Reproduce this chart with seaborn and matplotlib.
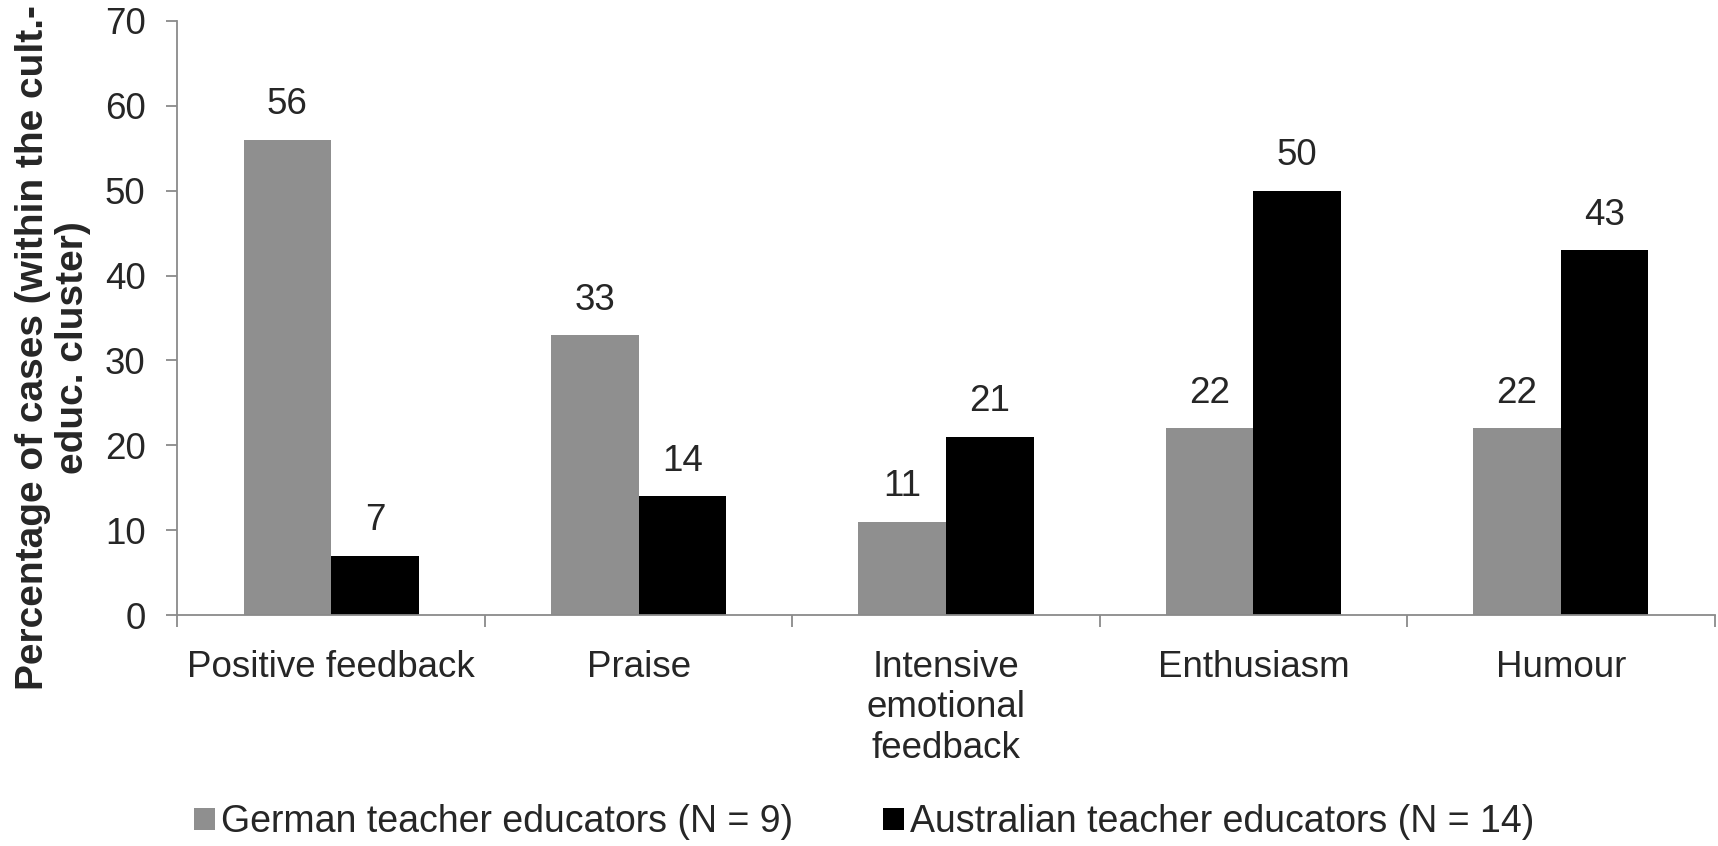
#!/usr/bin/env python3
"""Grouped bar chart: emotional feedback categories, German vs Australian teacher educators."""

import numpy as np
import matplotlib
matplotlib.use('Agg')
import matplotlib.pyplot as plt
from matplotlib.ticker import FixedLocator, NullFormatter
import seaborn as sns
import pandas as pd

# ------------------------------
# DATA
# ------------------------------
categories = ['Positive feedback', 'Praise', 'Intensive\nemotional\nfeedback',
              'Enthusiasm', 'Humour']
german = [56, 33, 11, 22, 22]
australian = [7, 14, 21, 50, 43]
groups = ['German teacher educators (N = 9)', 'Australian teacher educators (N = 14)']
y_ticks = [0, 10, 20, 30, 40, 50, 60, 70]

GRAY = '#8f8f8f'
AXIS = '#8a8a8a'
FS = 26.5

df = pd.DataFrame({
    'category': categories * 2,
    'value': german + australian,
    'group': [groups[0]] * len(categories) + [groups[1]] * len(categories),
})

sns.set_style('white')
plt.rcParams['font.family'] = ['Liberation Sans', 'DejaVu Sans']

fig = plt.figure(figsize=(17.18, 8.46), dpi=100)
ax = fig.add_axes([0.1033, 0.2730, 0.8947, 0.7022])

sns.barplot(data=df, x='category', y='value', hue='group', order=categories,
            hue_order=groups, palette=[GRAY, 'black'], width=0.57,
            saturation=1, edgecolor='none', linewidth=0, ax=ax)

for cont in ax.containers:
    ax.bar_label(cont, fmt='%d', padding=12.5, fontsize=FS)

ax.set_ylim(0, 70)
ax.set_xlim(-0.5, len(categories) - 0.5)
ax.set_yticks(y_ticks)
ax.tick_params(axis='y', labelsize=FS, length=8, width=1.3, color=AXIS,
               direction='out', pad=15, left=True)

# category labels centred, ticks on category boundaries
ax.xaxis.set_major_locator(FixedLocator(np.arange(-0.5, len(categories), 1.0)))
ax.xaxis.set_major_formatter(NullFormatter())
ax.xaxis.set_minor_locator(FixedLocator(np.arange(len(categories))))
ax.set_xticklabels(categories, minor=True)
ax.tick_params(axis='x', which='major', length=8.5, width=1.3, color=AXIS,
               direction='out', bottom=True)
ax.tick_params(axis='x', which='minor', length=0, labelsize=FS, pad=25)

for s in ['top', 'right']:
    ax.spines[s].set_visible(False)
for s in ['left', 'bottom']:
    ax.spines[s].set_color(AXIS)
    ax.spines[s].set_linewidth(1.3)

ax.set_xlabel('')
ax.set_ylabel('Percentage of cases (within the cult.-\neduc. cluster)',
              fontsize=28, fontweight='bold', linespacing=1.15)
ax.yaxis.set_label_coords(-0.056, 0.45)

handles, labels = ax.get_legend_handles_labels()
ax.legend(handles, labels, loc='center', bbox_to_anchor=(0.503, 0.028),
          bbox_transform=fig.transFigure, ncol=2, frameon=False, fontsize=27,
          handlelength=0.55, handleheight=0.55, handletextpad=0.17,
          columnspacing=2.4, borderaxespad=0, borderpad=0)

fig.savefig('out.png', dpi=100)
plt.close(fig)
